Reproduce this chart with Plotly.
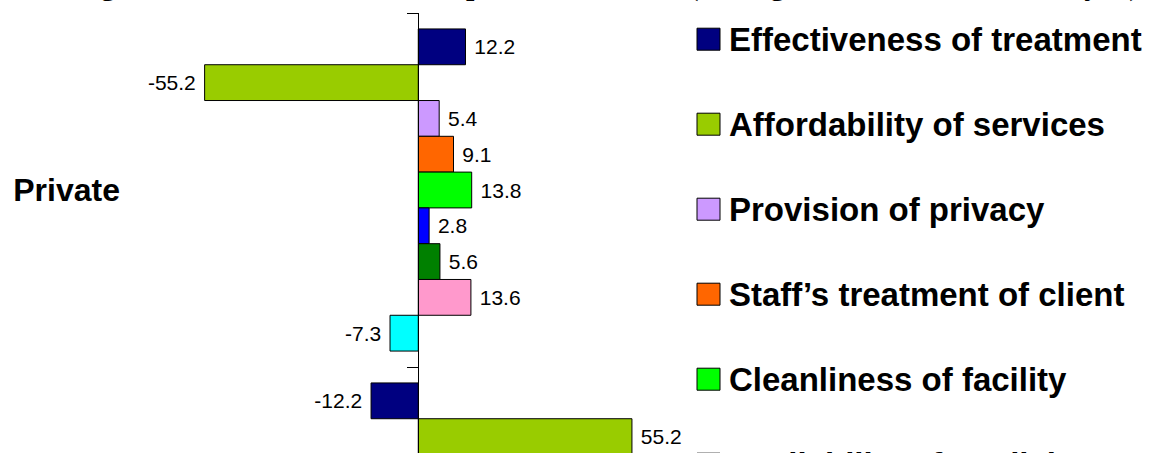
import plotly.graph_objects as go

# ---------------- data ----------------
categories = ["Private", "Public"]
series_names = [
    "Effectiveness of treatment",
    "Affordability of services",
    "Provision of privacy",
    "Staff\u2019s treatment of client",
    "Cleanliness of facility",
    "Availability of medicine",
    "Waiting time",
    "Opening hours",
    "Distance to facility",
]
private_values = [12.2, -55.2, 5.4, 9.1, 13.8, 2.8, 5.6, 13.6, -7.3]
public_values = [-12.2, 55.2, -5.4, -9.1, -13.8, -2.8, -5.6, -13.6, 7.3]
colors = ["#000080", "#99CC00", "#CC99FF", "#FF6600", "#00FF00",
          "#0000FF", "#008000", "#FF99CC", "#00FFFF"]
title_text = "Figure 3: Net scores of clinics: private and state (average of all the clients surveyed)"

# ---------------- layout constants ----------------
W, H = 1149, 453
ML, MR, MT, MB = 121, 459, 13, 0
X_RANGE = [-76.8, 70.2]
BAND_PX = 354.0
Y_RANGE = [(H - MT - MB) / BAND_PX - 0.5, -0.5]
plotW = W - ML - MR
plotH = H - MT - MB
SANS = "Liberation Sans, Arial, sans-serif"
SERIF = "Liberation Serif, Times New Roman, serif"


def px_x(px):
    return (px - ML) / plotW


def px_y(py):
    return 1 - (py - MT) / plotH


fig = go.Figure()

for name, pv, qv, col in zip(series_names, private_values, public_values, colors):
    vals = [pv, qv]
    fig.add_trace(go.Bar(
        orientation="h",
        y=categories,
        x=vals,
        name=name,
        marker=dict(color=col, line=dict(color="black", width=1)),
        text=["\u00a0" + f"{v}" + "\u00a0" for v in vals],
        textposition="outside",
        textfont=dict(family=SANS, size=21, color="black"),
        constraintext="none",
        showlegend=False,
        hoverinfo="skip",
    ))

# invisible helper trace so the zero-positioned category axis gets its ticks
fig.add_trace(go.Scatter(
    x=[0] * len(categories), y=categories, yaxis="y2", mode="markers",
    marker=dict(opacity=0), showlegend=False, hoverinfo="skip",
))

zero_pos = (0 - X_RANGE[0]) / (X_RANGE[1] - X_RANGE[0])

fig.update_layout(
    width=W, height=H,
    margin=dict(l=ML, r=MR, t=MT, b=MB, autoexpand=False),
    paper_bgcolor="white", plot_bgcolor="white",
    barmode="group", bargap=0.09, bargroupgap=0,
    showlegend=False,
    xaxis=dict(range=X_RANGE, visible=False, fixedrange=True),
    yaxis=dict(
        type="category", categoryorder="array", categoryarray=categories,
        range=Y_RANGE, showline=False, ticks="", showgrid=False, zeroline=False,
        tickfont=dict(family=SANS, size=32, color="black", weight="bold"),
    ),
    yaxis2=dict(
        type="category", categoryorder="array", categoryarray=categories,
        overlaying="y", anchor="free", position=zero_pos, side="left",
        range=Y_RANGE, showline=True, linecolor="black", linewidth=1,
        ticks="outside", ticklen=11, tickcolor="black", tickwidth=1,
        tickson="boundaries", showticklabels=False, showgrid=False, zeroline=False,
    ),
)

# manual legend (large square swatches, wide spacing)
shapes = []
annotations = []
for i, (name, col) in enumerate(zip(series_names, colors)):
    yc = 39.2 + 85 * i
    if yc - 16 > H:
        continue
    shapes.append(dict(
        type="rect", xref="paper", yref="paper",
        x0=px_x(697), x1=px_x(720), y0=px_y(yc + 11), y1=px_y(yc - 11),
        fillcolor=col, line=dict(color="black", width=1), layer="above",
    ))
    annotations.append(dict(
        text=name, xref="paper", yref="paper", x=px_x(727), y=px_y(yc),
        xanchor="left", yanchor="middle", showarrow=False,
        font=dict(family=SANS, size=33, color="black", weight="bold"),
    ))

# title (mostly above the visible crop; only descenders show)
annotations.append(dict(
    text=title_text, xref="paper", yref="paper", x=px_x(606), y=px_y(0),
    xanchor="center", yanchor="bottom", yshift=-4, showarrow=False,
    font=dict(family=SERIF, size=30, color="black", weight="bold"),
))

fig.update_layout(shapes=shapes, annotations=annotations)

fig.write_html("out.html")
